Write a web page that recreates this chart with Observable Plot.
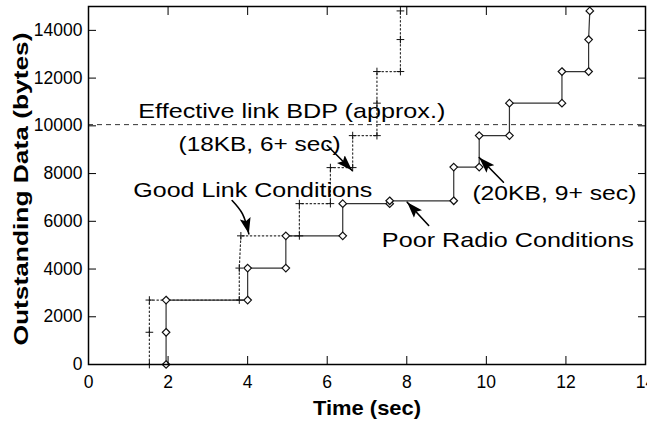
<!DOCTYPE html>
<html>
<head>
<meta charset="utf-8">
<script src="https://cdn.jsdelivr.net/npm/d3@7"></script>
<script src="https://cdn.jsdelivr.net/npm/@observablehq/plot@0.6"></script>
<style>
  html, body { margin: 0; padding: 0; background: white; }
  #chart { width: 647px; height: 424px; overflow: hidden; }
</style>
</head>
<body>
<div id="chart"></div>
<script>
// ---- data ----
const xTicks = [0, 2, 4, 6, 8, 10, 12, 14];
const yTicks = [0, 2000, 4000, 6000, 8000, 10000, 12000, 14000];

// Poor radio conditions (solid line, diamonds)
const poorTime  = [1.95, 1.95, 1.95, 4.0, 4.0, 4.96, 4.96, 6.39, 6.39, 7.57, 7.57, 9.18, 9.18, 9.82, 9.82, 10.58, 10.58, 11.9, 11.9, 12.57, 12.57, 12.6];
const poorBytes = [0, 1350, 2700, 2700, 4040, 4040, 5390, 5390, 6740, 6740, 6860, 6860, 8270, 8270, 9590, 9590, 10950, 10950, 12275, 12275, 13615, 14815];

// Good link conditions (dotted line, plus markers)
const goodTime  = [1.53, 1.53, 1.53, 3.79, 3.79, 3.83, 5.30, 5.30, 6.08, 6.08, 6.64, 6.64, 7.25, 7.25, 7.25, 7.84, 7.84, 7.84];
const goodBytes = [0, 1350, 2700, 2700, 4040, 5390, 5390, 6740, 6740, 8250, 8250, 9590, 9590, 10950, 12275, 12275, 13615, 14815];

// Effective link BDP (dashed)
const bdpBytes = 10050;

// Annotations
const noteLabels = ["Effective link BDP (approx.)", "(18KB, 6+ sec)", "Good Link Conditions", "(20KB, 9+ sec)", "Poor Radio Conditions"];
const noteTime   = [5.11, 4.30, 4.13, 11.71, 10.54];
const noteBytes  = [10616, 9246, 7319, 7193, 5224];

// Annotation arrows (tail ... tip)
const arrowId    = ["a18", "a18", "good", "good", "good", "a20", "a20", "poor", "poor"];
const arrowTime  = [6.00, 6.626, 3.61, 3.87, 4.03, 10.43, 9.82, 8.55, 8.01];
const arrowBytes = [9175, 8127, 6870, 6313, 5475, 7637, 8672, 5823, 6800];

// ---- tables ----
const poor = poorTime.map((t, i) => ({t, b: poorBytes[i]}));
const good = goodTime.map((t, i) => ({t, b: goodBytes[i]}));
const notes = noteLabels.map((label, i) => ({label, t: noteTime[i], b: noteBytes[i]}));
const arrows = arrowId.map((id, i) => ({id, t: arrowTime[i], b: arrowBytes[i]}));

const ARROW = "#010101";

const chart = Plot.plot({
  width: 647,
  height: 424,
  marginLeft: 88,
  marginRight: 2,
  marginTop: 6,
  marginBottom: 60,
  style: {
    fontFamily: "'Liberation Sans', Arial, Helvetica, sans-serif",
    fontSize: "17.5px",
    color: "black",
    background: "white"
  },
  x: {domain: [0, 14]},
  y: {domain: [0, 15000]},
  marks: [
    Plot.ruleY([bdpBytes], {stroke: "#333", strokeDasharray: "5,4", strokeWidth: 1}),
    Plot.line(good, {x: "t", y: "b", stroke: "#333", strokeWidth: 1.2, strokeDasharray: "1.5,2.5"}),
    Plot.line(poor, {x: "t", y: "b", stroke: "#333", strokeWidth: 1.2}),
    Plot.dot(good, {x: "t", y: "b", symbol: "plus", r: 2.6, stroke: "#111", strokeWidth: 1}),
    Plot.dot(poor, {x: "t", y: "b", symbol: "diamond2", r: 3.4, stroke: "#111", fill: "white", strokeWidth: 1.2}),
    Plot.line(arrows, {x: "t", y: "b", z: "id", curve: "catmull-rom", stroke: ARROW, strokeWidth: 1.6}),
    Plot.text(notes, {x: "t", y: "b", text: "label", fontSize: 21, fill: "black", textAnchor: "middle", lineAnchor: "middle"}),
    Plot.axisX(xTicks, {anchor: "bottom", tickSize: -8, tickPadding: 19, label: null, tickFormat: d => String(d)}),
    Plot.axisX(xTicks, {anchor: "top", tickSize: -8, tickFormat: () => "", label: null}),
    Plot.axisY(yTicks, {anchor: "left", tickSize: -8, tickPadding: 14, label: null, tickFormat: d => String(d)}),
    Plot.axisY(yTicks, {anchor: "right", tickSize: -8, tickFormat: () => "", label: null}),
    Plot.text(["Time (sec)"], {frameAnchor: "bottom", dy: 44, textAnchor: "middle", lineAnchor: "middle", fontWeight: "bold", fontSize: 21, fill: "black"}),
    Plot.text(["Outstanding Data (bytes)"], {frameAnchor: "left", rotate: -90, dx: -67.5, dy: 3.5, textAnchor: "middle", lineAnchor: "middle", fontWeight: "bold", fontSize: 21, fill: "black"}),
    Plot.frame({stroke: "black", strokeWidth: 1.5})
  ]
});

document.getElementById("chart").appendChild(chart);

// ---- styling post-process: filled arrowheads and stretched text widths ----
const svg = d3.select(chart);
svg.append("defs").append("marker")
  .attr("id", "arrowhead")
  .attr("viewBox", "0 -6 16 12")
  .attr("refX", 16).attr("refY", 0)
  .attr("markerWidth", 16).attr("markerHeight", 12)
  .attr("markerUnits", "userSpaceOnUse")
  .attr("orient", "auto")
  .append("path").attr("d", "M0,-5.5L16,0L0,5.5L3,0Z").attr("fill", "black");
svg.selectAll("g").filter(function() { return (this.getAttribute("stroke") || "").toLowerCase() === ARROW; })
  .selectAll("path").attr("marker-end", "url(#arrowhead)");

const textWidths = {
  "Outstanding Data (bytes)": 313,
  "Time (sec)": 108,
  "Effective link BDP (approx.)": 307,
  "(18KB, 6+ sec)": 162,
  "Good Link Conditions": 239,
  "(20KB, 9+ sec)": 164,
  "Poor Radio Conditions": 252
};
svg.selectAll("text").each(function() {
  const w = textWidths[this.textContent];
  if (w) { this.setAttribute("textLength", w); this.setAttribute("lengthAdjust", "spacingAndGlyphs"); }
});
</script>
</body>
</html>
